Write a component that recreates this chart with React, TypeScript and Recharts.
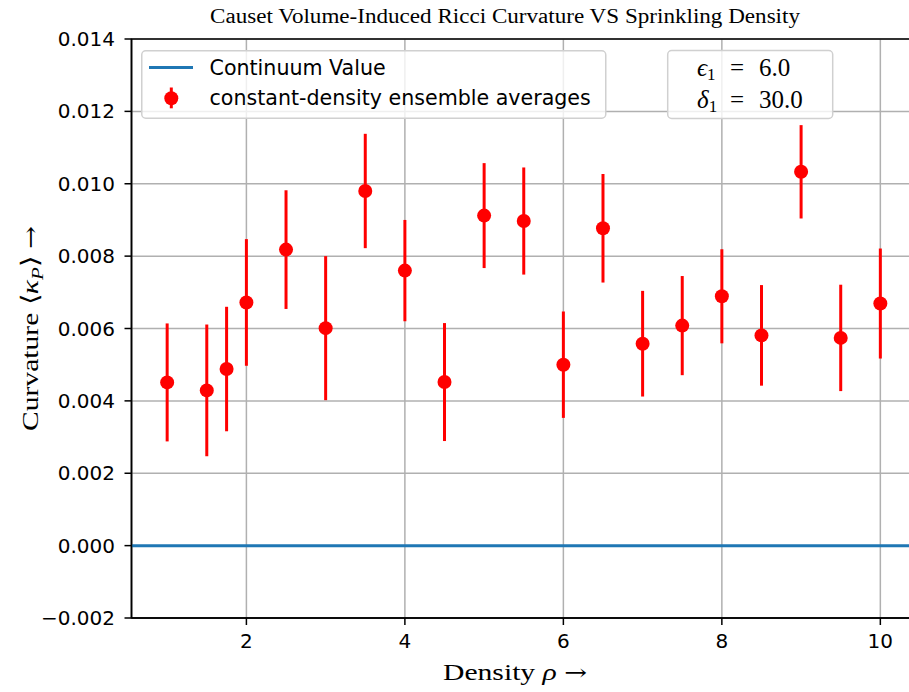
import { ScatterChart, Scatter, XAxis, YAxis, CartesianGrid, ErrorBar, ReferenceLine, ReferenceArea, Legend } from "recharts";

const DENSITY = [1, 1.5, 1.75, 2, 2.5, 3, 3.5, 4, 4.5, 5, 5.5, 6, 6.5, 7, 7.5, 8, 8.5, 9, 9.5, 10];
const CURVATURE = [0.00451, 0.00429, 0.00488, 0.00672, 0.00818, 0.00601, 0.0098, 0.0076, 0.00452, 0.00912, 0.00897, 0.005, 0.00877, 0.00558, 0.00608, 0.00689, 0.00581, 0.01033, 0.00574, 0.00669];
const CURVATURE_ERR = [0.00163, 0.00182, 0.00172, 0.00175, 0.00164, 0.00199, 0.00158, 0.0014, 0.00163, 0.00145, 0.00148, 0.00147, 0.0015, 0.00146, 0.00137, 0.0013, 0.00139, 0.00129, 0.00147, 0.00152];
const CONTINUUM_VALUE = 0;

const X_TICKS = [2, 4, 6, 8, 10];
const Y_TICKS = [-0.002, 0, 0.002, 0.004, 0.006, 0.008, 0.01, 0.012, 0.014];
const X_DOMAIN = [0.55, 10.45];
const Y_DOMAIN = [-0.002, 0.014];

const TITLE = "Causet Volume-Induced Ricci Curvature VS Sprinkling Density";
const EPSILON_1 = "6.0";
const DELTA_1 = "30.0";

const points = DENSITY.map((x, i) => ({ x, y: CURVATURE[i], err: CURVATURE_ERR[i] }));

const SERIF = "'Liberation Serif', 'Times New Roman', serif";
const SANS = "'DejaVu Sans', sans-serif";
const ARROW_FONT = "'DejaVu Serif', serif";
const RED = "#ff0000";
const BLUE = "#1f77b4";

const fmtY = (v: number) => {
  const s = Math.abs(v).toFixed(3);
  return v < -1e-9 ? "\u2212" + s : s;
};

const Dot = (props: any) => <circle cx={props.cx} cy={props.cy} r={7} fill={RED} />;

const YLabel = ({ viewBox }: any) => {
  const cx = 38;
  const cy = viewBox.y + viewBox.height / 2;
  return (
    <text x={cx} y={cy} transform={`rotate(-90, ${cx}, ${cy})`} textAnchor="middle" fontFamily={SERIF} fontSize={24} fill="#000" textLength={205} lengthAdjust="spacingAndGlyphs">
      Curvature {"\u27E8"}
      <tspan fontStyle="italic">{"\u03BA"}</tspan>
      <tspan fontStyle="italic" fontSize={17} dy={5}>P</tspan>
      <tspan dy={-5}>{"\u27E9 "}</tspan>
      <tspan fontFamily={ARROW_FONT} fontSize={22}>{"\u2192"}</tspan>
    </text>
  );
};

const XLabel = () => (
  <text x={515} y={680} textAnchor="middle" fontFamily={SERIF} fontSize={24} fill="#000" textLength={144} lengthAdjust="spacingAndGlyphs">
    Density <tspan fontStyle="italic">{"\u03C1"}</tspan>{" "}
    <tspan fontFamily={ARROW_FONT} fontSize={22}>{"\u2192"}</tspan>
  </text>
);

const renderLegend = () => (
  <svg width={466} height={70} style={{ display: "block" }}>
    <rect x={0.75} y={0.75} width={464} height={67.5} rx={4} fill="#fff" fillOpacity={0.8} stroke="#d0d0d0" strokeWidth={1.5} />
    <line x1={8} x2={52} y1={17.5} y2={17.5} stroke={BLUE} strokeWidth={3} />
    <text x={68.5} y={24.7} fontFamily={SANS} fontSize={20.6} fill="#000">Continuum Value</text>
    <line x1={30.3} x2={30.3} y1={37.5} y2={58.3} stroke={RED} strokeWidth={3} />
    <circle cx={30.3} cy={48.3} r={7} fill={RED} />
    <text x={68.5} y={55.3} fontFamily={SANS} fontSize={20.6} fill="#000">constant-density ensemble averages</text>
  </svg>
);

export default function App() {
  return (
    <div style={{ position: "absolute", left: 0, top: 0, width: 909, height: 692, overflow: "hidden", background: "#fff" }}>
      <ScatterChart width={940} height={692} margin={{ top: 39, right: 24, left: 0, bottom: 0 }}>
        <CartesianGrid stroke="#b0b0b0" strokeWidth={1.5} />
        <XAxis
          type="number"
          dataKey="x"
          domain={X_DOMAIN}
          ticks={X_TICKS}
          allowDataOverflow
          height={74}
          tickSize={7}
          tickMargin={9}
          tick={{ fill: "#000", fontFamily: SANS, fontSize: 20 }}
          tickLine={{ stroke: "#000", strokeWidth: 1.5 }}
          axisLine={{ stroke: "#000", strokeWidth: 1.5 }}
          label={<XLabel />}
        />
        <YAxis
          type="number"
          dataKey="y"
          domain={Y_DOMAIN}
          ticks={Y_TICKS}
          allowDataOverflow
          width={131.5}
          tickSize={7}
          tickMargin={9.5}
          tickFormatter={fmtY}
          tick={{ fill: "#000", fontFamily: SANS, fontSize: 20 }}
          tickLine={{ stroke: "#000", strokeWidth: 1.5 }}
          axisLine={{ stroke: "#000", strokeWidth: 1.5 }}
          label={<YLabel />}
        />
        <ReferenceLine y={CONTINUUM_VALUE} stroke={BLUE} strokeWidth={3} />
        <ReferenceArea x1={X_DOMAIN[0]} x2={X_DOMAIN[1]} y1={Y_DOMAIN[0]} y2={Y_DOMAIN[1]} fill="none" stroke="#000" strokeWidth={1.5} />
        <Scatter data={points} shape={Dot} isAnimationActive={false}>
          <ErrorBar dataKey="err" direction="y" width={0} stroke={RED} strokeWidth={3} isAnimationActive={false} />
        </Scatter>
        <Legend
          layout="vertical"
          align="center"
          verticalAlign="middle"
          content={renderLegend}
          wrapperStyle={{ position: "absolute", left: 141, top: 50, width: 466, height: 70, margin: 0, padding: 0 }}
        />
      </ScatterChart>
      <svg width={909} height={692} style={{ position: "absolute", left: 0, top: 0, pointerEvents: "none" }}>
        <text x={505} y={22.5} textAnchor="middle" fontFamily={SERIF} fontSize={20} textLength={590} lengthAdjust="spacingAndGlyphs" fill="#000">
          {TITLE}
        </text>
        <rect x={667.7} y={50.5} width={165} height={68} rx={4} fill="#fff" fillOpacity={0.8} stroke="#d0d0d0" strokeWidth={1.5} />
        <text y={76} fontFamily={SERIF} fontSize={25} fill="#000">
          <tspan x={697} fontStyle="italic">{"\u03F5"}</tspan>
          <tspan fontSize={17} dy={4}>1</tspan>
          <tspan x={730} dy={-4}>=</tspan>
          <tspan x={759}>{EPSILON_1}</tspan>
        </text>
        <text y={107.7} fontFamily={SERIF} fontSize={25} fill="#000">
          <tspan x={697} fontStyle="italic">{"\u03B4"}</tspan>
          <tspan fontSize={17} dy={4}>1</tspan>
          <tspan x={730} dy={-4}>=</tspan>
          <tspan x={759}>{DELTA_1}</tspan>
        </text>
      </svg>
    </div>
  );
}
